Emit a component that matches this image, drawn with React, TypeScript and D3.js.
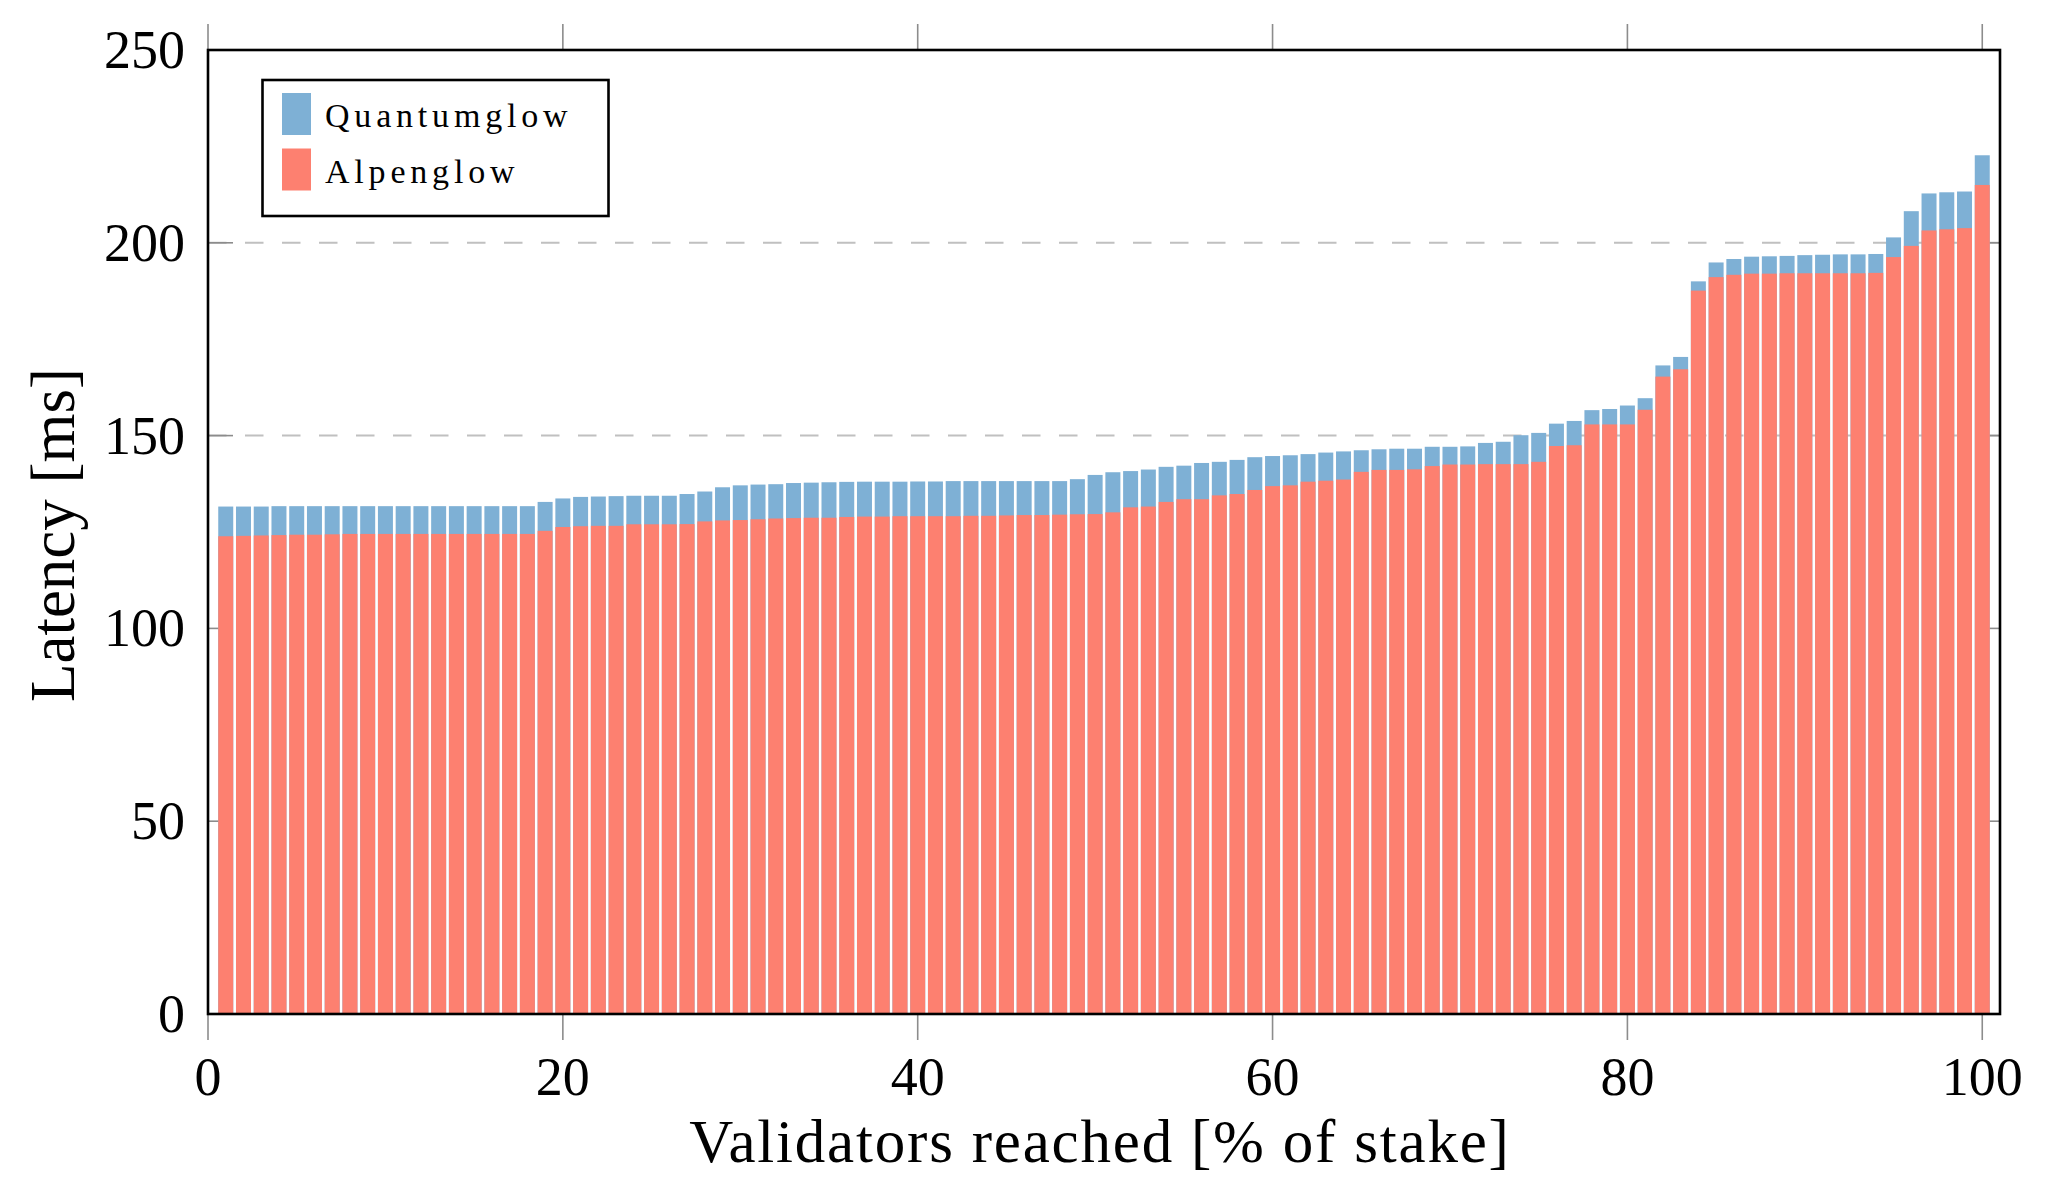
import * as d3 from "d3"

// Validators reached [% of stake] for each bar
const stakePct = d3.range(1, 101)

const quantumglow = [
  131.6, 131.6, 131.6, 131.7, 131.7, 131.7, 131.7, 131.7, 131.7, 131.7,
  131.7, 131.7, 131.7, 131.7, 131.7, 131.7, 131.7, 131.7, 132.8, 133.7,
  134.1, 134.2, 134.3, 134.4, 134.4, 134.4, 134.85, 135.5, 136.6, 137.1,
  137.3, 137.4, 137.7, 137.8, 137.9, 138.0, 138.05, 138.05, 138.05, 138.1,
  138.1, 138.2, 138.2, 138.2, 138.2, 138.2, 138.2, 138.2, 138.7, 139.8,
  140.5, 140.8, 141.2, 141.9, 142.2, 142.9, 143.2, 143.7, 144.4, 144.7,
  144.9, 145.2, 145.6, 145.9, 146.2, 146.45, 146.6, 146.6, 147.1, 147.1,
  147.2, 148.1, 148.4, 150.1, 150.7, 153.1, 153.8, 156.6, 156.9, 157.8,
  159.7, 168.2, 170.4, 190.0, 194.9, 195.8, 196.4, 196.5, 196.6, 196.8,
  196.9, 197.0, 197.0, 197.1, 201.4, 208.2, 212.8, 213.1, 213.3, 222.7,
]

const alpenglow = [
  123.9, 124.0, 124.1, 124.2, 124.3, 124.3, 124.4, 124.5, 124.5, 124.5,
  124.5, 124.5, 124.5, 124.5, 124.5, 124.5, 124.5, 124.5, 125.3, 126.3,
  126.5, 126.6, 126.6, 127.0, 127.0, 127.0, 127.05, 127.75, 128.0, 128.1,
  128.3, 128.5, 128.6, 128.7, 128.7, 128.9, 129.0, 129.0, 129.1, 129.1,
  129.1, 129.1, 129.2, 129.2, 129.3, 129.4, 129.4, 129.5, 129.6, 129.65,
  130.1, 131.4, 131.6, 132.8, 133.5, 133.5, 134.5, 134.85, 135.9, 136.9,
  137.1, 138.05, 138.3, 138.6, 140.6, 141.1, 141.1, 141.25, 142.1, 142.5,
  142.5, 142.6, 142.6, 142.6, 143.2, 147.3, 147.5, 152.9, 152.9, 152.9,
  156.7, 165.3, 167.2, 187.6, 191.1, 191.7, 192.0, 192.0, 192.1, 192.1,
  192.1, 192.1, 192.1, 192.2, 196.3, 199.2, 203.2, 203.5, 203.8, 215.0,
]

const xTicks = [0, 20, 40, 60, 80, 100]
const yTicks = [0, 50, 100, 150, 200, 250]
const gridLevels = [150, 200]

const legendItems = [
  { name: "Quantumglow", color: "#7eb0d5" },
  { name: "Alpenglow", color: "#fd8070" },
]

const W = 2048
const H = 1193
const FONT = "'Liberation Serif', 'Times New Roman', serif"

export default function App() {
  const x = d3.scaleLinear().domain([0, 101]).range([208, 2000])
  const y = d3.scaleLinear().domain([0, 250]).range([1014, 50])
  const barW = (x(1) - x(0)) * 0.845
  const [x0, x1] = x.range()
  const [y0, y1] = y.range()

  return (
    <svg
      width={W}
      height={H}
      viewBox={`0 0 ${W} ${H}`}
      style={{ position: "absolute", left: 0, top: 0, background: "#fff" }}
      fontFamily={FONT}
    >
      {/* dashed grid */}
      {gridLevels.map((v) => (
        <line
          key={"g" + v}
          x1={x0}
          x2={x1}
          y1={y(v)}
          y2={y(v)}
          stroke="#c0c0c0"
          strokeWidth={2}
          strokeDasharray="18.5 18.5"
        />
      ))}

      {/* y ticks (inside) */}
      {yTicks.map((v) => (
        <g key={"yt" + v} stroke="#8c8c8c" strokeWidth={1.6}>
          <line x1={x0} x2={x0 + 25} y1={y(v)} y2={y(v)} />
          <line x1={x1} x2={x1 - 25} y1={y(v)} y2={y(v)} />
        </g>
      ))}

      {/* x ticks (outside) */}
      {xTicks.map((v) => (
        <g key={"xt" + v} stroke="#8c8c8c" strokeWidth={1.6}>
          <line x1={x(v)} x2={x(v)} y1={y1} y2={y1 - 26} />
          <line x1={x(v)} x2={x(v)} y1={y0} y2={y0 + 26} />
        </g>
      ))}

      {/* Quantumglow bars (behind) */}
      {stakePct.map((p, i) => (
        <rect
          key={"q" + p}
          x={x(p) - barW / 2}
          y={y(quantumglow[i])}
          width={barW}
          height={y(0) - y(quantumglow[i])}
          fill={legendItems[0].color}
        />
      ))}

      {/* Alpenglow bars (front) */}
      {stakePct.map((p, i) => (
        <rect
          key={"a" + p}
          x={x(p) - barW / 2}
          y={y(alpenglow[i])}
          width={barW}
          height={y(0) - y(alpenglow[i])}
          fill={legendItems[1].color}
        />
      ))}

      {/* frame */}
      <rect x={x0} y={y1} width={x1 - x0} height={y0 - y1} fill="none" stroke="#000" strokeWidth={2.6} />

      {/* tick labels */}
      {xTicks.map((v) => (
        <text key={"xl" + v} x={x(v)} y={1095} textAnchor="middle" fontSize={54}>
          {v}
        </text>
      ))}
      {yTicks.map((v) => (
        <text key={"yl" + v} x={185} y={y(v) + 18} textAnchor="end" fontSize={54}>
          {v}
        </text>
      ))}

      {/* axis labels */}
      <text x={1100} y={1162} textAnchor="middle" fontSize={61} letterSpacing={1.8}>
        Validators reached [% of stake]
      </text>
      <text
        transform={`translate(74, ${(y0 + y1) / 2 + 3}) rotate(-90)`}
        textAnchor="middle"
        fontSize={63}
      >
        Latency [ms]
      </text>

      {/* legend */}
      <g>
        <rect x={262.5} y={80} width={346} height={136} fill="#fff" stroke="#000" strokeWidth={2.6} />
        {legendItems.map((d, i) => (
          <g key={d.name} transform={`translate(0, ${i * 55.5})`}>
            <rect x={282} y={93} width={29} height={42} fill={d.color} />
            <text x={325} y={127} fontSize={34} letterSpacing={4.8}>
              {d.name}
            </text>
          </g>
        ))}
      </g>
    </svg>
  )
}
